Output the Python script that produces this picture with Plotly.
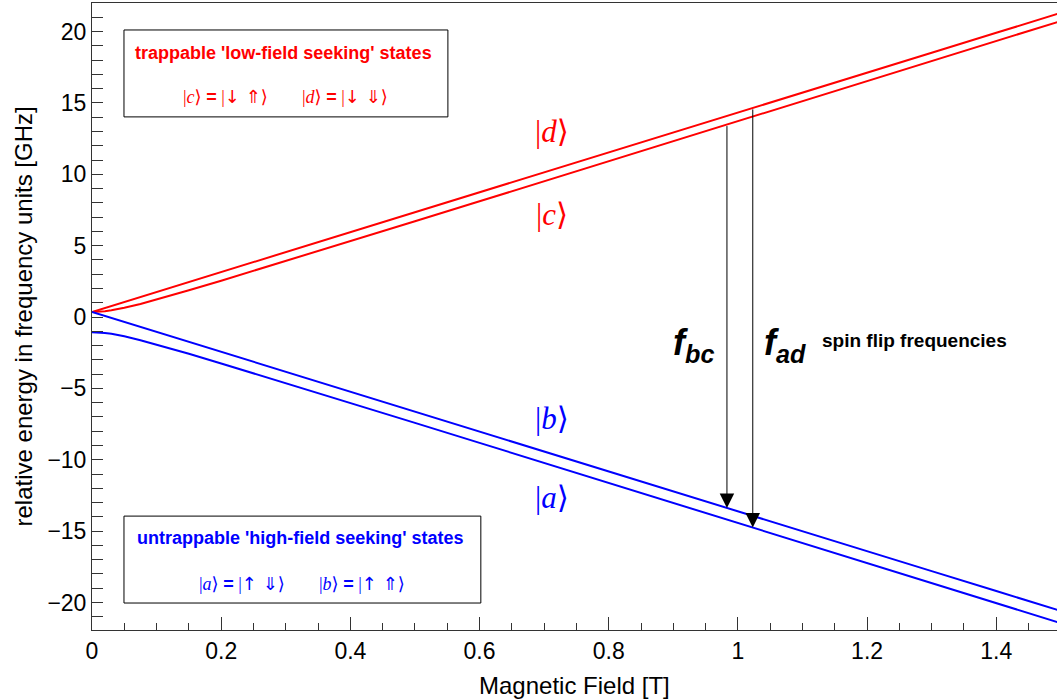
import plotly.graph_objects as go

# Magnetic field values (T) at which the curves were read
field_T = [0.0, 0.01, 0.02, 0.03, 0.05, 0.075, 0.1, 0.15, 0.2, 0.3, 0.4, 0.5, 0.6,
           0.7, 0.8, 0.9, 1.0, 1.1, 1.2, 1.3, 1.4, 1.5]

# Energies in GHz
state_d = [0.355, 0.495, 0.634, 0.774, 1.053, 1.403, 1.752, 2.450, 3.149, 4.546, 5.943,
           7.340, 8.737, 10.134, 11.530, 12.927, 14.324, 15.721, 17.118, 18.515, 19.912, 21.309]
state_c = [0.355, 0.369, 0.409, 0.471, 0.644, 0.916, 1.220, 1.870, 2.544, 3.921, 5.312,
           6.708, 8.108, 9.509, 10.911, 12.314, 13.718, 15.122, 16.526, 17.930, 19.335, 20.739]
state_b = [0.355, 0.215, 0.076, -0.064, -0.343, -0.693, -1.042, -1.740, -2.439, -3.836, -5.233,
           -6.630, -8.027, -9.424, -10.820, -12.217, -13.614, -15.011, -16.408, -17.805, -19.202, -20.599]
state_a = [-1.065, -1.079, -1.119, -1.181, -1.354, -1.626, -1.930, -2.580, -3.254, -4.631, -6.022,
           -7.418, -8.818, -10.219, -11.621, -13.024, -14.428, -15.832, -17.236, -18.640, -20.045, -21.450]

# Spin flip arrows: field, start energy, end energy
arrow_field = [0.983, 1.023]
arrow_start = [13.48, 14.65]
arrow_end = [-13.38, -14.75]

RED = "#ff0000"
BLUE = "#0000ff"
SANS = "Liberation Sans, Arial, Helvetica, sans-serif"
SERIF = "Liberation Serif, Times New Roman, DejaVu Serif, serif"


def ket_line(letter, e_arrow, p_arrow):
    return ("|<i>%s</i>⟩ <span style=\"font-family:'Liberation Sans'\"><b>=</b></span> "
            "|<span style=\"font-family:'DejaVu Sans'\">%s %s</span>⟩" % (letter, e_arrow, p_arrow))


fig = go.Figure()
for ys, col in [(state_d, RED), (state_c, RED), (state_b, BLUE), (state_a, BLUE)]:
    fig.add_trace(go.Scatter(x=field_T, y=ys, mode="lines",
                             line=dict(color=col, width=2), showlegend=False,
                             hoverinfo="skip"))

annotations = []
# spin flip arrows
for xf, y0, y1 in zip(arrow_field, arrow_start, arrow_end):
    annotations.append(dict(x=xf, y=y1, ax=xf, ay=y0, xref="x", yref="y",
                            axref="x", ayref="y", showarrow=True, arrowhead=2,
                            arrowsize=2.9, arrowwidth=1, arrowcolor="black", text=""))

# f labels
annotations.append(dict(x=0.932, y=-1.96, xref="x", yref="y", showarrow=False,
                        text="<b><i>f</i></b><sub><b><i>bc</i></b></sub>",
                        font=dict(family=SANS, size=36, color="black")))
annotations.append(dict(x=1.073, y=-1.96, xref="x", yref="y", showarrow=False,
                        text="<b><i>f</i></b><sub><b><i>ad</i></b></sub>",
                        font=dict(family=SANS, size=36, color="black")))
annotations.append(dict(x=1.274, y=-1.68, xref="x", yref="y", showarrow=False,
                        text="<b>spin flip frequencies</b>",
                        font=dict(family=SANS, size=19, color="black")))

# state labels
for txt, yy, col in [("d", 13.03, RED), ("c", 7.15, RED), ("b", -7.08, BLUE), ("a", -12.68, BLUE)]:
    annotations.append(dict(x=0.712, y=yy, xref="x", yref="y", showarrow=False,
                            text="|<i>%s</i>⟩" % txt,
                            font=dict(family=SERIF, size=31, color=col)))

# box texts
annotations.append(dict(x=0.297, y=18.5, xref="x", yref="y", showarrow=False,
                        text="<b>trappable 'low-field seeking' states</b>",
                        font=dict(family=SANS, size=18, color=RED)))
annotations.append(dict(x=0.206, y=15.42, xref="x", yref="y", showarrow=False,
                        text=ket_line("c", "↓", "⇑"),
                        font=dict(family=SERIF, size=18, color=RED)))
annotations.append(dict(x=0.392, y=15.42, xref="x", yref="y", showarrow=False,
                        text=ket_line("d", "↓", "⇓"),
                        font=dict(family=SERIF, size=18, color=RED)))
annotations.append(dict(x=0.3235, y=-15.49, xref="x", yref="y", showarrow=False,
                        text="<b>untrappable 'high-field seeking' states</b>",
                        font=dict(family=SANS, size=18, color=BLUE)))
annotations.append(dict(x=0.232, y=-18.64, xref="x", yref="y", showarrow=False,
                        text=ket_line("a", "↑", "⇓"),
                        font=dict(family=SERIF, size=18, color=BLUE)))
annotations.append(dict(x=0.418, y=-18.64, xref="x", yref="y", showarrow=False,
                        text=ket_line("b", "↑", "⇑"),
                        font=dict(family=SERIF, size=18, color=BLUE)))

# axis titles
annotations.append(dict(x=0.5, y=0, xref="paper", yref="paper", yshift=-55,
                        xanchor="center", yanchor="middle", showarrow=False,
                        text="Magnetic Field [T]",
                        font=dict(family=SANS, size=24, color="black")))
annotations.append(dict(x=0, y=0.5, xref="paper", yref="paper", xshift=-69,
                        xanchor="center", yanchor="middle", showarrow=False,
                        textangle=-90,
                        text="relative energy in frequency units [GHz]",
                        font=dict(family=SANS, size=24, color="black")))

shapes = [
    dict(type="rect", xref="x", yref="y", x0=0.0495, x1=0.551, y0=14.02, y1=20.11,
         line=dict(color="black", width=1), fillcolor="white", layer="above"),
    dict(type="rect", xref="x", yref="y", x0=0.0495, x1=0.602, y0=-20.04, y1=-13.95,
         line=dict(color="black", width=1), fillcolor="white", layer="above"),
]

fig.update_layout(
    width=1057, height=700,
    margin=dict(l=92, r=0, t=3, b=70),
    paper_bgcolor="white", plot_bgcolor="white",
    annotations=annotations, shapes=shapes,
    showlegend=False,
    xaxis=dict(range=[0, 1.494], dtick=0.2, tick0=0, showgrid=False, zeroline=False,
               showline=True, linecolor="#333", linewidth=1, mirror=True,
               ticks="inside", ticklen=13, tickcolor="#333",
               minor=dict(dtick=0.05, ticks="inside", ticklen=7, tickcolor="#333", showgrid=False),
               tickfont=dict(family=SANS, size=23, color="black")),
    yaxis=dict(range=[-21.93, 22.0], dtick=5, tick0=0, showgrid=False, zeroline=False,
               showline=True, linecolor="#333", linewidth=1, mirror=True,
               ticks="inside", ticklen=11, tickcolor="#333",
               minor=dict(dtick=1, ticks="inside", ticklen=11, tickcolor="#333", showgrid=False),
               tickfont=dict(family=SANS, size=23, color="black")),
)

fig.write_html("out.html")
